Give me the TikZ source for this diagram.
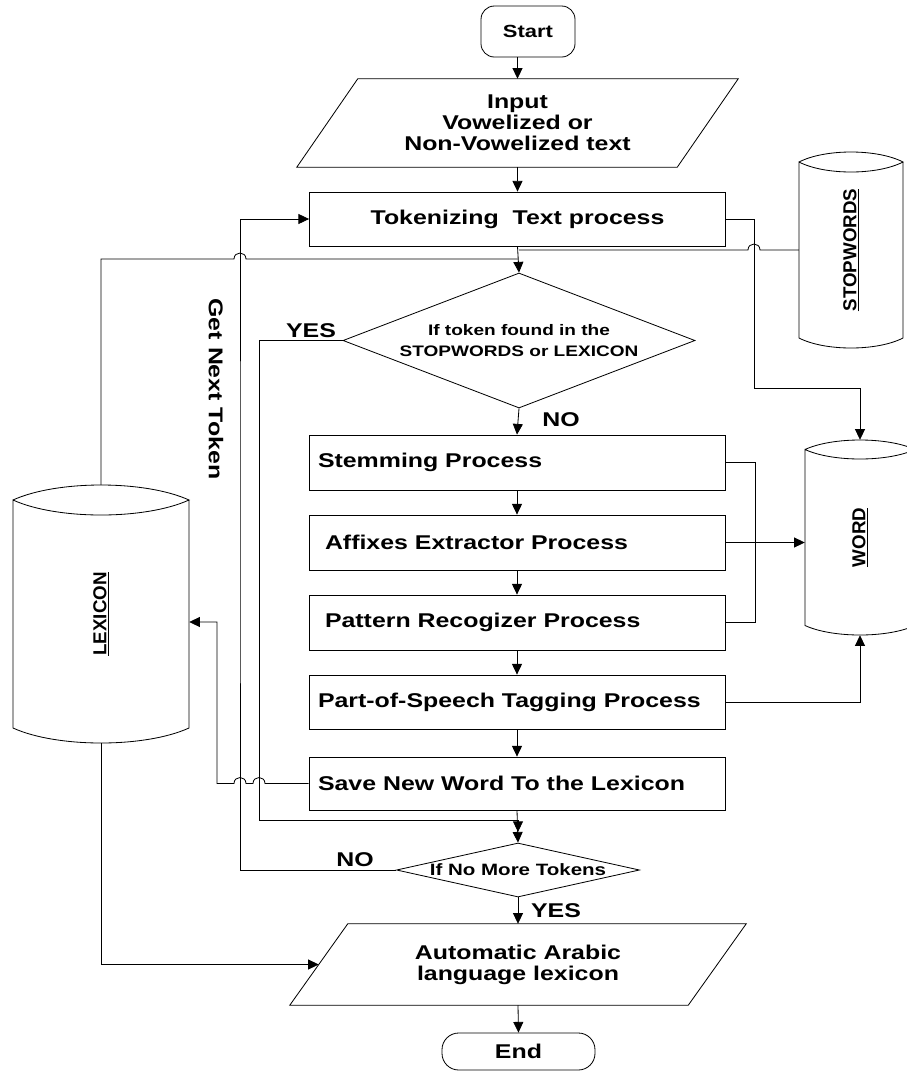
\documentclass[tikz,border=0pt]{standalone}
\usepackage{fontspec}
\newfontfamily\mainf[FakeStretch=1.25]{Liberation Sans}
\newfontfamily\cylf{Liberation Sans}
\usetikzlibrary{shapes.geometric,arrows.meta,calc}
\newcommand{\cylout}[5]{%
  \draw[line width=0.7pt] (#1,#3) .. controls ({#1+(#2-#1)/4},{#3-4/3*#5}) and ({#2-(#2-#1)/4},{#3-4/3*#5}) .. (#2,#3)
    .. controls ({#2-(#2-#1)/4},{#3+4/3*#5}) and ({#1+(#2-#1)/4},{#3+4/3*#5}) .. (#1,#3)
    -- (#1,#4) .. controls ({#1+(#2-#1)/4},{#4+4/3*#5}) and ({#2-(#2-#1)/4},{#4+4/3*#5}) .. (#2,#4) -- (#2,#3);}
\tikzset{
  base/.style={font=\mainf\bfseries\fontsize{17}{18}\selectfont},
  line/.style={line width=0.7pt},
  arr/.style={line width=0.7pt, -{Triangle[length=3.2mm,width=3mm]}},
  box/.style={draw, line width=0.7pt, minimum width=124.8mm, minimum height=16.5mm, inner sep=0pt, base},
  term/.style={draw, line width=0.7pt, inner sep=0pt},
  ghost/.style={inner sep=0pt, base},
  dia/.style={diamond, draw, line width=0.7pt, inner sep=0pt},
  lbl/.style={base, inner sep=0pt},
  cyl/.style={inner sep=0pt, font=\cylf\bfseries\fontsize{16}{18}\selectfont},
}
\begin{document}
\begin{tikzpicture}[x=0.3mm,y=-0.3mm]
\useasboundingbox (0,0) rectangle (907,1072);
\clip (0,0) rectangle (907,1072);

% terminals and I/O
\node[term, rounded corners=4mm, minimum width=28.2mm, minimum height=15.3mm,
      font=\mainf\bfseries\fontsize{15}{16}\selectfont] (start) at (528,31.5) {Start};
\node[ghost, minimum width=114mm, minimum height=26.4mm, align=center] (input) at (517.5,123)
  {Input\\Vowelized or\\Non-Vowelized text};
\draw[line] ($(input.north west)+(30.5,0)$) -- ($(input.north east)+(30.5,0)$)
  -- ($(input.south east)+(-30.5,0)$) -- ($(input.south west)+(-30.5,0)$) -- cycle;

\node[box, minimum height=16.2mm] (tok) at (517.5,219) {Tokenizing\ \ Text process};

\node[dia, minimum width=105.6mm, minimum height=40.5mm] (d1) at (519,340.5) {};
\node[lbl, align=center, font=\mainf\bfseries\fontsize{13}{18}\selectfont] (d1t) at (d1)
  {If token found in the\\STOPWORDS or LEXICON};

\node[box] (stem) at (517,462.5) {\makebox[119.4mm][l]{Stemming Process}};
\node[box] (affix) at (517,542.5) {\makebox[115.2mm][l]{Affixes Extractor Process}};
\node[box] (patt) at (517,622.5) {\makebox[115.2mm][l]{Pattern Recogizer Process}};
\node[box, minimum height=16.2mm] (pos) at (517,702) {\makebox[119.4mm][l]{Part-of-Speech Tagging Process}};
\node[box, minimum height=15.9mm] (save) at (517,783.5) {\makebox[119.4mm][l]{Save New Word To the Lexicon}};

\node[dia, minimum width=72.9mm, minimum height=16.2mm] (d2) at (518,870) {};
\node[lbl, font=\mainf\bfseries\fontsize{14}{16}\selectfont] (d2t) at (d2) {If No More Tokens};

\node[ghost, minimum width=119.4mm, minimum height=24.3mm, align=center] (out) at (518,964.5)
  {Automatic Arabic\\language lexicon};
\draw[line] ($(out.north west)+(29,0)$) -- ($(out.north east)+(29,0)$)
  -- ($(out.south east)+(-29,0)$) -- ($(out.south west)+(-29,0)$) -- cycle;

\node[term, rounded corners=5mm, minimum width=45.9mm, minimum height=11.1mm, base] (end) at (518.5,1051.5) {End};

% cylinders
\node[cyl, minimum width=31.2mm, minimum height=58.8mm] (stop) at (851,250) {\rotatebox{90}{\underline{STOPWORDS}}};
\cylout{799}{903}{162}{338}{10}
\node[cyl, minimum width=33mm, minimum height=58.5mm] (word) at (860,537.5) {\rotatebox{90}{\underline{WORD}}};
\cylout{805}{915}{449.5}{625.5}{9.5}
\node[cyl, minimum width=52.8mm, minimum height=77.4mm] (lex) at (101,614) {\raisebox{0pt}{\rotatebox{90}{\underline{LEXICON}}}};
\cylout{13}{189}{500}{728}{15}

% labels
\node[lbl] (yes1) at (311,331) {YES};
\node[lbl] (no1) at (561,420) {NO};
\node[lbl] (no2) at (355,860) {NO};
\node[lbl] (yes2) at (556,911) {YES};
\node[lbl, rotate=-90] (gnt) at (216,389) {Get Next Token};

% main flow
\draw[arr] (input.north |- start.south) -- (input.north);
\draw[arr] (input.south) -- (tok.north);
\draw[arr] (tok.south) -- (d1.north);
\draw[arr] (d1.south) -- (stem.north);
\draw[arr] (stem.south) -- (affix.north);
\draw[arr] (affix.south) -- (patt.north);
\draw[arr] (patt.south) -- (pos.north);
\draw[arr] (pos.south) -- (save.north);
\draw[arr] (save.south) -- (d2.north);
\draw[arr] (d2.south) -- (out.north);
\draw[arr] (out.south) -- (end.north);

% side connectors
\coordinate (j1) at (518,259);
\draw[line] (stop.west) -- (760,250) .. controls (760,242) and (748,242) .. (748,250) -- (d1.north |- stop.west);
\draw[line] (lex.north) -- (lex.north |- j1) -- (234,259) .. controls (234,251) and (246,251) .. (246,259) -- (j1);

\coordinate (tw) at (754,388);
\draw[arr] (tok.east) -| (tw) -| (word.north);
\draw[line] (stem.east) -- ++(30,0) |- (patt.east);
\draw[arr] (affix.east) -- (affix.east -| word.west);
\draw[arr] (pos.east) -| (word.south);

\coordinate (yc) at (259,820);
\draw[arr] (d1.west) -| (yc) -- (yc -| d2.north) -- ++(0,12);

\coordinate (gx) at (240,500);
\draw[arr] (d2.west) -| (gx) |- (tok.west);

\draw[arr] (save.west) -- (265,783.5) .. controls (265,775.5) and (253,775.5) .. (253,783.5)
  -- (246,783.5) .. controls (246,775.5) and (234,775.5) .. (234,783.5)
  -- (217,783.5) -- (217,622) -- ([yshift=-2.4mm]lex.east);

\draw[arr] (lex.south) |- (out.west);
\end{tikzpicture}
\end{document}
